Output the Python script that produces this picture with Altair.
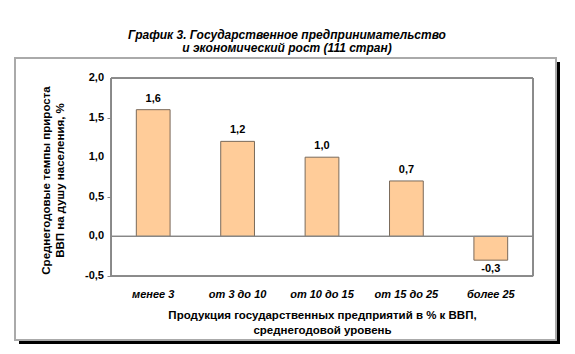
import altair as alt
import pandas as pd

categories = ["менее 3", "от 3 до 10", "от 10 до 15", "от 15 до 25", "более 25"]
values = [1.6, 1.2, 1.0, 0.7, -0.3]
y_ticks = [-0.5, 0.0, 0.5, 1.0, 1.5, 2.0]

df = pd.DataFrame({"cat": categories, "val": values})
ticks_df = pd.DataFrame({"val": y_ticks})
FONT = "Liberation Sans"

x_enc = alt.X("cat:N", sort=categories,
              scale=alt.Scale(paddingInner=0.6, paddingOuter=0.3),
              axis=alt.Axis(title=["Продукция государственных предприятий в % к ВВП,", "среднегодовой уровень"],
                            labelAngle=0, labelFont=FONT, labelFontSize=11, labelFontStyle="italic",
                            labelFontWeight="bold", labelColor="black", labelPadding=12,
                            labelOverlap=False,
                            ticks=False, domain=False, zindex=1,
                            titleFont=FONT, titleFontSize=11.5, titleFontWeight="bold", titleColor="black",
                            titlePadding=10, titleLineHeight=15))
y_enc = alt.Y("val:Q", scale=alt.Scale(domain=[-0.5, 2.0], nice=False),
              axis=alt.Axis(title=["Среднегодовые темпы прироста", "ВВП на душу населения, %"],
                            values=y_ticks, labels=False,
                            tickSize=4, tickColor="#888888", domainColor="#888888",
                            grid=False, zindex=1,
                            titleFont=FONT, titleFontSize=11.5, titleFontWeight="bold", titleColor="black",
                            titleAngle=-90, titleX=-71, titleY=102, titleAlign="center",
                            titleBaseline="top", titleLineHeight=14))

base = alt.Chart(df)
enc = base.encode(x=x_enc, y=y_enc)

# decorative outer frame with a dark drop shadow (right and bottom strips)
shadow_r = base.mark_rect(color="black").encode(
    x=alt.value(445), x2=alt.value(449), y=alt.value(-16), y2=alt.value(266))
shadow_b = base.mark_rect(color="black").encode(
    x=alt.value(-92), x2=alt.value(449), y=alt.value(262), y2=alt.value(266))
frame = base.mark_rect(fill="white", fillOpacity=0, stroke="#aaaaaa", strokeWidth=1.5).encode(
    x=alt.value(-96), x2=alt.value(445), y=alt.value(-20), y2=alt.value(262))
plot_box = base.mark_rect(fill="white", fillOpacity=0, stroke="#888888", strokeWidth=1).encode(
    x=alt.value(0), x2=alt.value(422), y=alt.value(0), y2=alt.value(198))

bars = enc.mark_bar(color="#FFCC99", stroke="#7a6a5a", strokeWidth=1)
zero = enc.mark_rule(color="#888888", strokeWidth=1).encode(
    x=alt.value(0), x2=alt.value(422), y=alt.Y(datum=0))

pos_text = enc.transform_filter("datum.val >= 0").mark_text(
    font=FONT, fontSize=11, fontWeight="bold", baseline="bottom", dy=-6, color="black"
).encode(text=alt.Text("val:Q", format=".1f"))
neg_text = enc.transform_filter("datum.val < 0").mark_text(
    font=FONT, fontSize=11, fontWeight="bold", baseline="top", dy=3, color="black"
).encode(text=alt.Text("val:Q", format=".1f"))

# y tick labels, drawn through the shared y scale
tick_labels = alt.Chart(ticks_df).mark_text(
    font=FONT, fontSize=11, fontWeight="bold", align="right", baseline="middle", color="black"
).encode(x=alt.value(-7), y=alt.Y("val:Q"), text=alt.Text("val:Q", format=".1f"))

chart = alt.layer(shadow_r, shadow_b, frame, plot_box, bars, zero, pos_text, neg_text,
                  tick_labels).properties(
    width=422, height=198,
    autosize=alt.AutoSizeParams(type="none"),
    padding={"left": 111, "top": 78, "right": 42, "bottom": 78},
    title=alt.TitleParams(["График 3. Государственное предпринимательство", "и экономический рост (111 стран)"],
                          font=FONT, fontSize=12, fontWeight="bold", fontStyle="italic", color="black",
                          anchor="middle", dx=-35, offset=2, lineHeight=13),
).configure_view(stroke=None).configure(
    background="white",
    locale=alt.Locale(number=alt.NumberLocale(decimal=",", thousands=" ", grouping=[3],
                                              currency=["", ""], minus="-")),
)

chart.save("out.html", embed_options={"renderer": "svg", "actions": False})
